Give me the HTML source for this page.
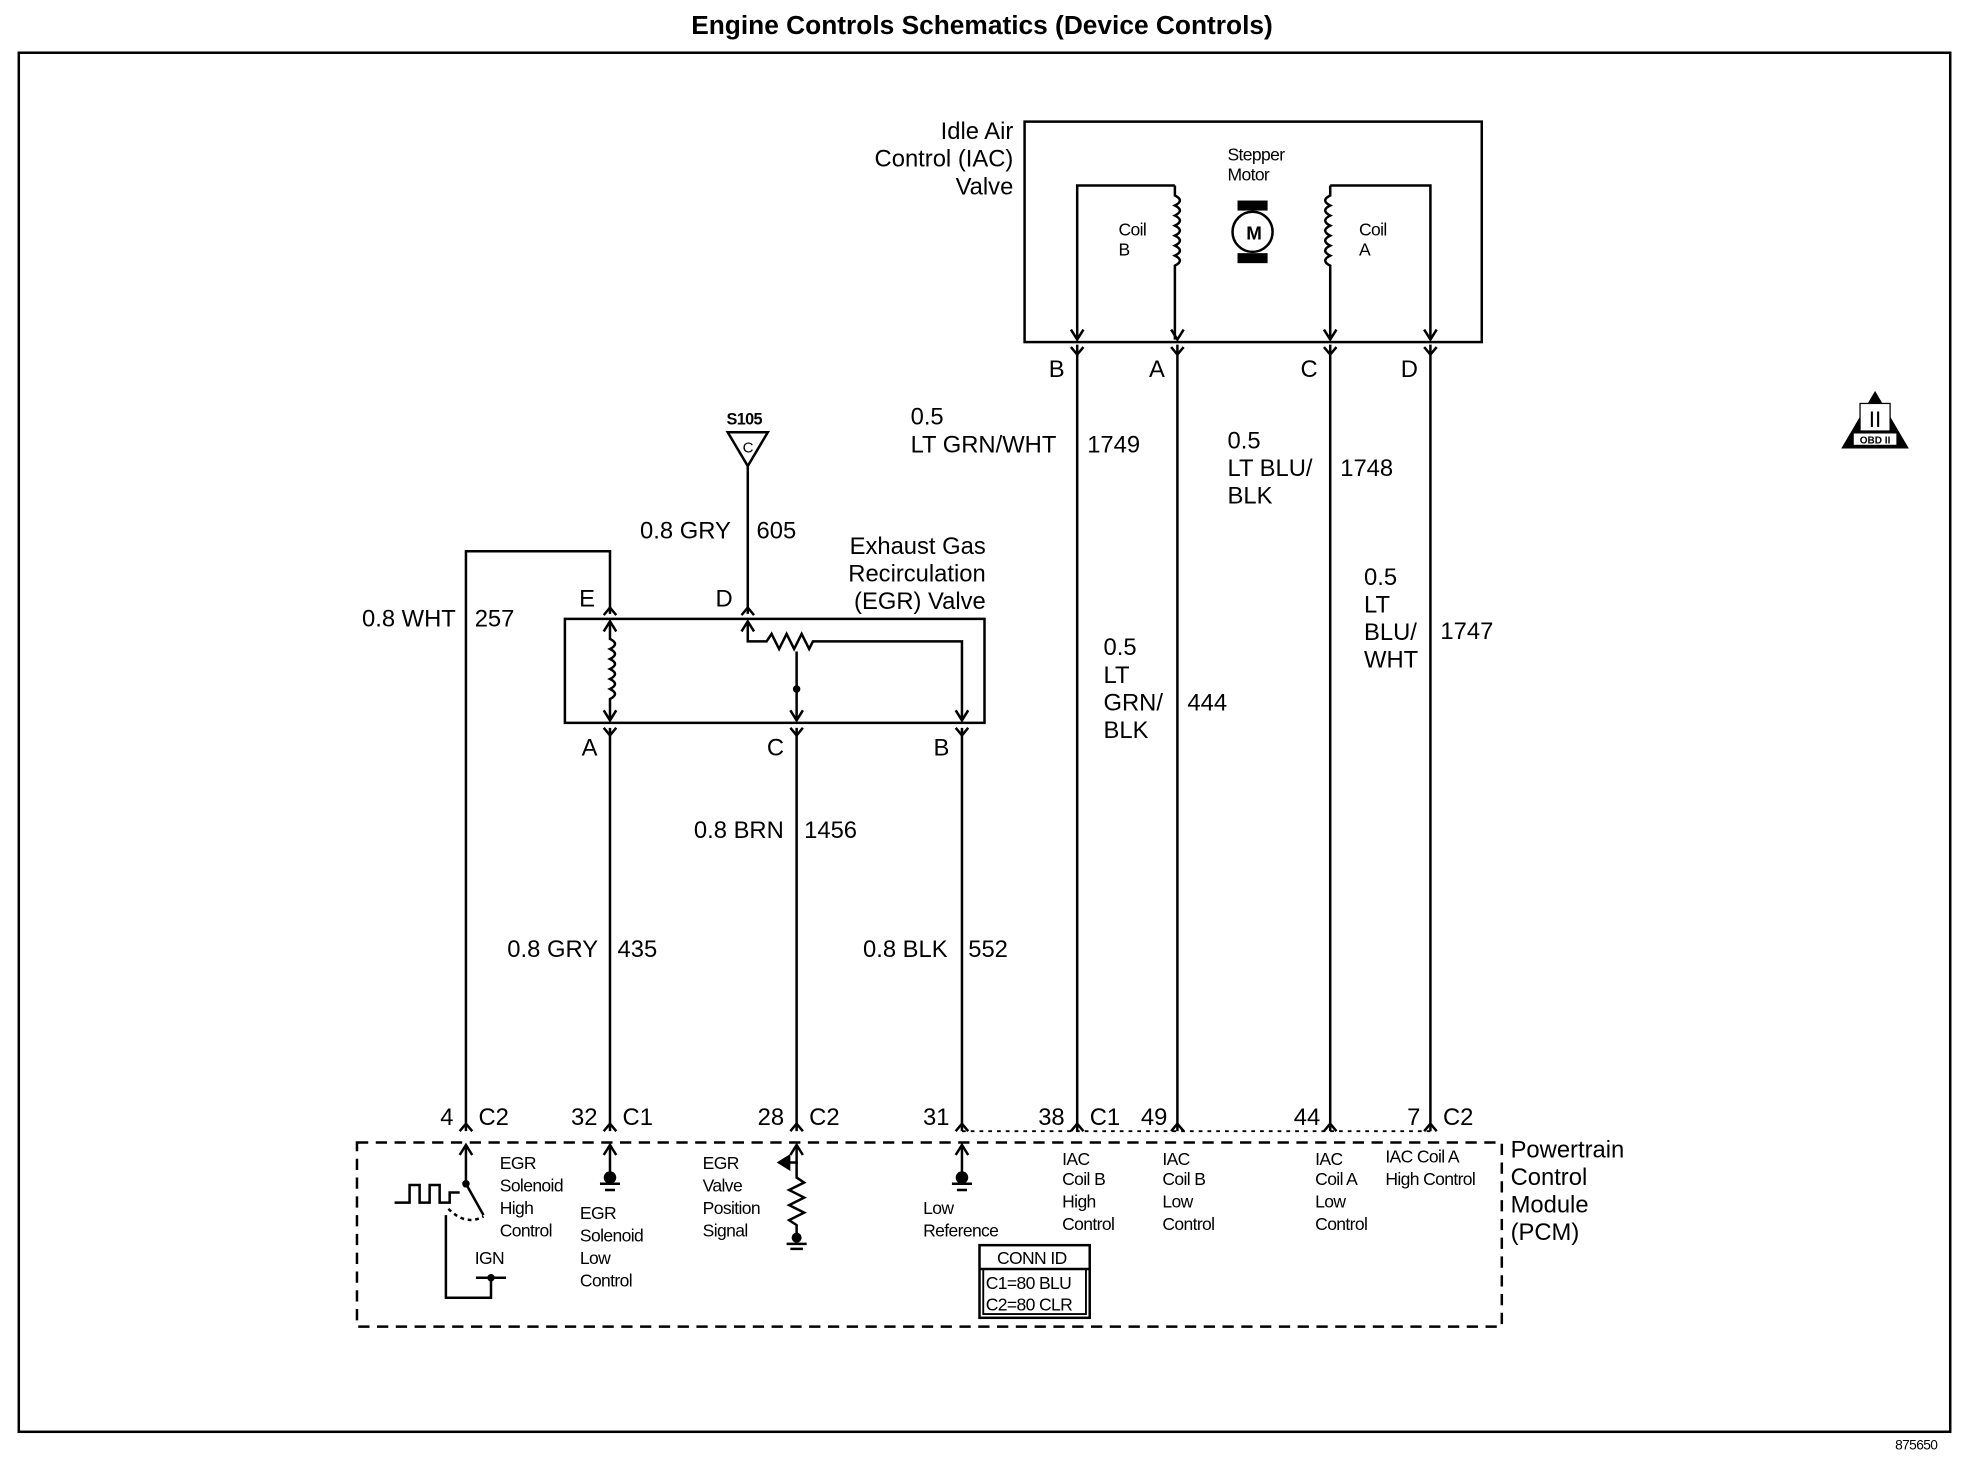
<!DOCTYPE html>
<html><head><meta charset="utf-8"><style>
html,body{margin:0;padding:0;background:#fff}
svg{display:block}
text{font-family:"Liberation Sans",Arial,sans-serif;fill:#000}
</style></head><body>
<svg width="1964" height="1472" viewBox="0 0 1568 1175" xmlns="http://www.w3.org/2000/svg">
<g stroke="#000" stroke-width="2" fill="none">
<rect x="15" y="42" width="1542" height="1101"/>
<rect x="818" y="97" width="365" height="176"/>
<rect x="451" y="494" width="335" height="83"/>
<rect x="285" y="912" width="914" height="147" stroke-dasharray="9,6"/>
<!-- IAC coils -->
<path d="M860,271 V148 H938"/>
<path d="M938,148 v8 q8,4 0,8 q8,4 0,8 q8,4 0,8 q8,4 0,8 q8,4 0,8 q8,4 0,8 q8,4 0,8 v4 V271"/>
<path d="M1142,271 V148 H1062"/>
<path d="M1062,148 v8 q-8,4 0,8 q-8,4 0,8 q-8,4 0,8 q-8,4 0,8 q-8,4 0,8 q-8,4 0,8 q-8,4 0,8 v4 V271"/>
<circle cx="1000" cy="185" r="16"/>
<!-- IAC wires -->
<path d="M860,275 V903"/><path d="M940,275 V903"/><path d="M1062,275 V903"/><path d="M1142,275 V903"/>
<!-- IAC pins: down arrow inside, Y below -->
<path d="M855,263 l5,8 l5,-8 M855,277 l5,6 l5,-6"/>
<path d="M935,263 l5,8 l5,-8 M935,277 l5,6 l5,-6"/>
<path d="M1057,263 l5,8 l5,-8 M1057,277 l5,6 l5,-6"/>
<path d="M1137,263 l5,8 l5,-8 M1137,277 l5,6 l5,-6"/>
<!-- EGR -->
<path d="M372,903 V440 H487 V490"/>
<path d="M597,372 V490"/>
<path d="M487,581 V903"/><path d="M636,581 V903"/><path d="M768,581 V903"/>
<!-- top pins E D: inverted Y above, up arrow inside -->
<path d="M482,491 l5,-6 l5,6 M482,504 l5,-8 l5,8"/>
<path d="M592,491 l5,-6 l5,6 M592,504 l5,-8 l5,8"/>
<!-- bottom pins A C B -->
<path d="M482,567 l5,8 l5,-8 M482,581 l5,6 l5,-6"/>
<path d="M631,567 l5,8 l5,-8 M631,581 l5,6 l5,-6"/>
<path d="M763,567 l5,8 l5,-8 M763,581 l5,6 l5,-6"/>
<path d="M487,496 V510 q8,4 0,8 q8,4 0,8 q8,4 0,8 q8,4 0,8 q8,4 0,8 q8,4 0,8 V575"/>
<path d="M597,496 V512 H612 l4,-6 l6,12 l6,-12 l6,12 l6,-12 l6,12 l3,-6 H768 V575"/>
<path d="M636,520 V575"/>
<path d="M581,345 H613 L597,372 Z"/>
<!-- PCM pins: inverted Y above, up arrow inside -->
<path d="M367,903 l5,-6 l5,6 M367,922 l5,-8 l5,8"/>
<path d="M482,903 l5,-6 l5,6 M482,922 l5,-8 l5,8"/>
<path d="M631,903 l5,-6 l5,6 M631,922 l5,-8 l5,8"/>
<path d="M763,903 l5,-6 l5,6 M763,922 l5,-8 l5,8"/>
<path d="M855,903 l5,-6 l5,6"/><path d="M935,903 l5,-6 l5,6"/><path d="M1057,903 l5,-6 l5,6"/><path d="M1137,903 l5,-6 l5,6"/>
<path d="M768,903 H1142" stroke-dasharray="3,4" stroke-width="1.5"/>
<path d="M372,914 V945 L386,970"/>
<path d="M487,914 V938"/><path d="M768,914 V938"/>
<path d="M636,914 V928 h-14"/><path d="M622,928 l8,-5 v10 z" fill="#000"/>
<path d="M636,928 V940 l6,4 l-12,6 l12,6 l-12,6 l12,6 l-12,6 l6,4 V990"/>
<path d="M628,993 h16 M631,997 h10" />
<path d="M315,960 h12 v-14 h8 v14 h8 v-14 h8 v14 h8 v-8 h8"/>
<path d="M356,970 V1036 H392 V1020 M380,1020 H404"/>
<path d="M358,965 q14,14 28,6" stroke-dasharray="3,3"/>
<rect x="782" y="994" width="88" height="58"/>
<path d="M782,1013 H870"/><rect x="785" y="1013" width="82" height="36" stroke-width="1.5"/>
</g>
<g fill="#000">
<circle cx="487" cy="940" r="5"/><circle cx="768" cy="940" r="5"/><circle cx="372" cy="945" r="3"/><circle cx="392" cy="1020" r="3"/>
<circle cx="636" cy="550" r="3"/><circle cx="636" cy="988" r="4"/>
<rect x="988" y="160" width="24" height="8"/><rect x="988" y="202" width="24" height="8"/>
<path d="M487,945 h-8 h16 M483,950 h8" stroke="#000" stroke-width="2"/>
<path d="M768,945 h-8 h16 M764,950 h8" stroke="#000" stroke-width="2"/>
<path d="M1497,312 L1524,358 L1470,358 Z"/>
</g>
<rect x="1485" y="322" width="24" height="22" fill="#fff" stroke="#000"/>
<rect x="1480" y="346" width="34" height="9" fill="#fff"/>
<text x="1497" y="341" font-size="18" text-anchor="middle" font-family="Liberation Serif">II</text>
<text x="1497" y="354" font-size="8" text-anchor="middle" font-weight="bold">OBD II</text>
<text x="784" y="27" font-size="21" font-weight="bold" text-anchor="middle">Engine Controls Schematics (Device Controls)</text>
<g font-size="19">
<text x="809" y="111" text-anchor="end">Idle Air</text>
<text x="809" y="133" text-anchor="end">Control (IAC)</text>
<text x="809" y="155" text-anchor="end">Valve</text>
<text x="850" y="301" text-anchor="end">B</text><text x="930" y="301" text-anchor="end">A</text>
<text x="1052" y="301" text-anchor="end">C</text><text x="1132" y="301" text-anchor="end">D</text>
<text x="727" y="339">0.5</text><text x="727" y="361">LT GRN/WHT</text><text x="868" y="361">1749</text>
<text x="980" y="358">0.5</text><text x="980" y="380">LT BLU/</text><text x="980" y="402">BLK</text><text x="1070" y="380">1748</text>
<text x="1089" y="467">0.5</text><text x="1089" y="489">LT</text><text x="1089" y="511">BLU/</text><text x="1089" y="533">WHT</text><text x="1150" y="510">1747</text>
<text x="881" y="523">0.5</text><text x="881" y="545">LT</text><text x="881" y="567">GRN/</text><text x="881" y="589">BLK</text><text x="948" y="567">444</text>
<text x="511" y="430">0.8 GRY</text><text x="604" y="430">605</text>
<text x="787" y="442" text-anchor="end">Exhaust Gas</text>
<text x="787" y="464" text-anchor="end">Recirculation</text>
<text x="787" y="486" text-anchor="end">(EGR) Valve</text>
<text x="289" y="500">0.8 WHT</text><text x="379" y="500">257</text>
<text x="475" y="484" text-anchor="end">E</text><text x="585" y="484" text-anchor="end">D</text>
<text x="477" y="603" text-anchor="end">A</text><text x="626" y="603" text-anchor="end">C</text><text x="758" y="603" text-anchor="end">B</text>
<text x="554" y="669">0.8 BRN</text><text x="642" y="669">1456</text>
<text x="405" y="764">0.8 GRY</text><text x="493" y="764">435</text>
<text x="689" y="764">0.8 BLK</text><text x="773" y="764">552</text>
<text x="362" y="898" text-anchor="end">4</text><text x="382" y="898">C2</text>
<text x="477" y="898" text-anchor="end">32</text><text x="497" y="898">C1</text>
<text x="626" y="898" text-anchor="end">28</text><text x="646" y="898">C2</text>
<text x="758" y="898" text-anchor="end">31</text>
<text x="850" y="898" text-anchor="end">38</text><text x="870" y="898">C1</text>
<text x="932" y="898" text-anchor="end">49</text>
<text x="1054" y="898" text-anchor="end">44</text>
<text x="1134" y="898" text-anchor="end">7</text><text x="1152" y="898">C2</text>
<text x="1206" y="924">Powertrain</text><text x="1206" y="946">Control</text><text x="1206" y="968">Module</text><text x="1206" y="990">(PCM)</text>
</g>
<g font-size="14" letter-spacing="-0.5">
<text x="980" y="128">Stepper</text><text x="980" y="144">Motor</text>
<text x="893" y="188">Coil</text><text x="893" y="204">B</text>
<text x="1085" y="188">Coil</text><text x="1085" y="204">A</text>
<text x="399" y="933">EGR</text><text x="399" y="951">Solenoid</text><text x="399" y="969">High</text><text x="399" y="987">Control</text>
<text x="379" y="1009">IGN</text>
<text x="463" y="973">EGR</text><text x="463" y="991">Solenoid</text><text x="463" y="1009">Low</text><text x="463" y="1027">Control</text>
<text x="561" y="933">EGR</text><text x="561" y="951">Valve</text><text x="561" y="969">Position</text><text x="561" y="987">Signal</text>
<text x="737" y="969">Low</text><text x="737" y="987">Reference</text>
<text x="848" y="930">IAC</text><text x="848" y="946">Coil B</text><text x="848" y="964">High</text><text x="848" y="982">Control</text>
<text x="928" y="930">IAC</text><text x="928" y="946">Coil B</text><text x="928" y="964">Low</text><text x="928" y="982">Control</text>
<text x="1050" y="930">IAC</text><text x="1050" y="946">Coil A</text><text x="1050" y="964">Low</text><text x="1050" y="982">Control</text>
<text x="1106" y="928">IAC Coil A</text><text x="1106" y="946">High Control</text>
<text x="796" y="1009">CONN ID</text><text x="787" y="1029">C1=80 BLU</text><text x="787" y="1046">C2=80 CLR</text>
<text x="580" y="339" font-weight="bold" font-size="13">S105</text>
<text x="597" y="361" font-size="12" text-anchor="middle">C</text>
<text x="1001" y="191" font-size="15" font-weight="bold" text-anchor="middle">M</text>
<text x="1513" y="1157" font-size="11">875650</text>
</g>
</svg>
</body></html>
